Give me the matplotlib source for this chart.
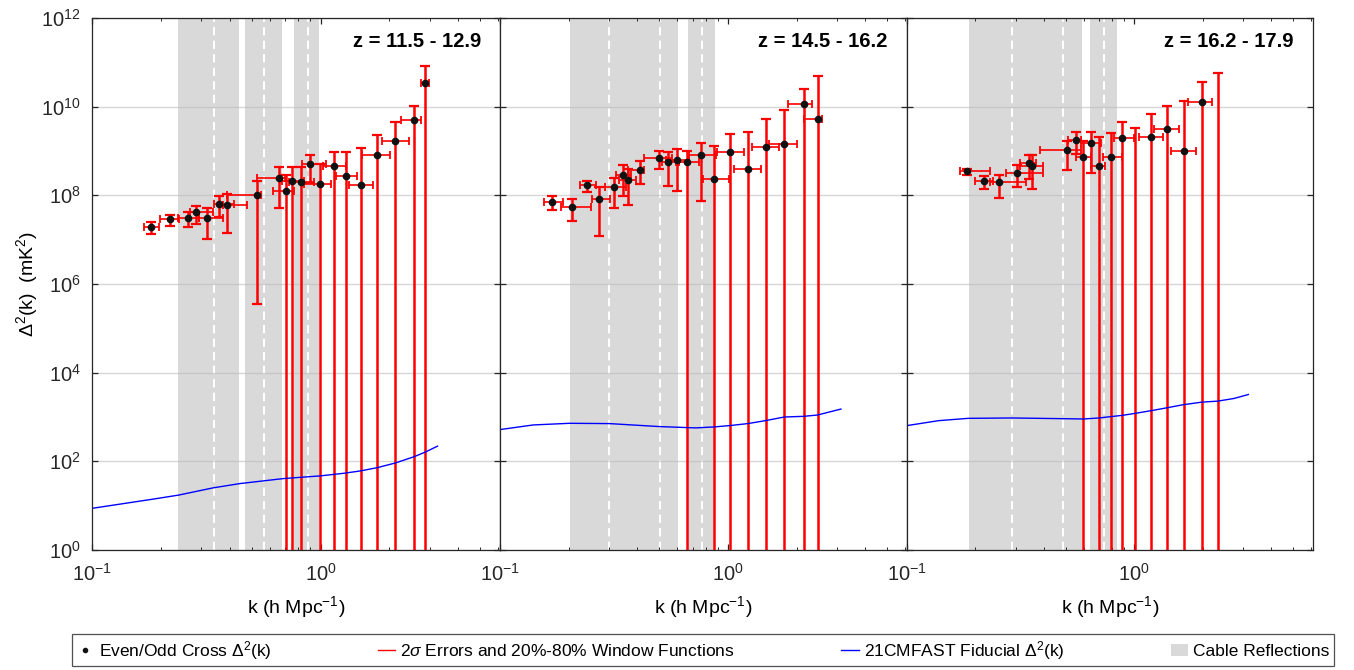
import matplotlib.pyplot as plt
import numpy as np
from matplotlib.lines import Line2D
from matplotlib.patches import Patch
from matplotlib.ticker import LogLocator, NullLocator

plt.rcParams['font.family'] = ['Liberation Sans', 'DejaVu Sans']
plt.rcParams['mathtext.fontset'] = 'custom'
plt.rcParams['mathtext.rm'] = 'Liberation Sans'
plt.rcParams['mathtext.it'] = 'Liberation Sans:italic'
plt.rcParams['mathtext.bf'] = 'Liberation Sans:bold'

LOW = 0.1  # error bar reaching zero (below the plotted range)
nan = np.nan

titles = ["z = 11.5 - 12.9", "z = 14.5 - 16.2", "z = 16.2 - 17.9"]

# ---- z = 11.5 - 12.9
k1 = [0.182, 0.220, 0.262, 0.285, 0.317, 0.361, 0.390, 0.529, 0.656, 0.705, 0.751,
      0.820, 0.897, 0.997, 1.140, 1.288, 1.508, 1.772, 2.125, 2.576, 2.877]
k1_lo = [0.169, 0.199, 0.239, 0.269, 0.293, 0.343, 0.374, 0.390, 0.528, 0.620, 0.679,
         0.726, 0.831, 0.845, 1.024, 1.164, 1.332, 1.524, 1.864, 2.244, 2.765]
k1_hi = [0.196, 0.240, 0.293, 0.340, 0.374, 0.417, 0.477, 0.549, 0.700, 0.769, 0.845,
         0.935, 1.052, 1.114, 1.288, 1.448, 1.702, 2.014, 2.440, 2.746, 2.977]
d1 = [1.91e7, 2.94e7, 3.10e7, 4.22e7, 3.10e7, 6.50e7, 6.06e7, 1.03e8, 2.49e8, 1.23e8, 2.06e8,
      1.96e8, 5.06e8, 1.77e8, 4.64e8, 2.67e8, 1.74e8, 8.20e8, 1.69e9, 4.93e9, 3.46e10]
d1_lo = [1.31e7, 2.05e7, 1.91e7, 2.27e7, 1.03e7, 3.26e7, 1.45e7, 3.49e5, 5.19e7, LOW, LOW,
         LOW, 1.86e8, LOW, LOW, LOW, LOW, LOW, LOW, LOW, LOW]
d1_hi = [2.52e7, 3.68e7, 4.22e7, 5.66e7, 5.19e7, 9.50e7, 1.07e8, 2.06e8, 4.33e8, 2.91e8, 4.33e8,
         4.33e8, 7.92e8, 5.15e8, 9.57e8, 9.42e8, 1.16e9, 2.31e9, 4.45e9, 1.04e10, 8.06e10]

# ---- z = 14.5 - 16.2
k2 = [0.169, 0.206, 0.242, 0.272, 0.316, 0.347, 0.365, 0.410, 0.496, 0.545,
      0.597, 0.662, 0.760, 0.869, 1.017, 1.222, 1.461, 1.767, 2.147, 2.472]
k2_lo = [0.156, 0.186, 0.224, 0.254, 0.290, 0.323, 0.334, 0.363, 0.427, 0.516,
         0.534, 0.590, 0.676, 0.778, 0.898, 1.062, 1.277, 1.510, 1.834, 2.163]
k2_hi = [0.189, 0.251, 0.264, 0.305, 0.357, 0.376, 0.395, 0.430, 0.571, 0.611,
         0.676, 0.747, 0.884, 1.010, 1.174, 1.402, 1.670, 2.008, 2.336, 2.582]
d2 = [7.21e7, 5.56e7, 1.68e8, 8.41e7, 1.51e8, 2.81e8, 2.17e8, 3.71e8, 6.90e8, 5.71e8,
      6.22e8, 5.61e8, 8.06e8, 2.29e8, 9.57e8, 3.84e8, 1.24e9, 1.45e9, 1.15e10, 5.19e9]
d2_lo = [4.68e7, 2.61e7, 1.17e8, 1.24e7, 5.28e7, 9.50e7, 6.17e7, 1.83e8, 3.84e8, 1.59e8,
         1.23e8, LOW, 7.59e7, LOW, LOW, LOW, LOW, LOW, LOW, LOW]
d2_hi = [9.50e7, 8.28e7, 2.10e8, 1.51e8, 2.45e8, 4.80e8, 3.97e8, 5.81e8, 9.91e8, 9.57e8,
         1.12e9, 1.00e9, 1.55e9, 1.31e9, 2.47e9, 2.70e9, 5.19e9, 8.57e9, 2.54e10, 4.97e10]

# ---- z = 16.2 - 17.9  (nan = negative value, only the error bar shows)
k3 = [0.184, 0.219, 0.253, 0.305, 0.344, 0.355, 0.504, 0.551, 0.594, 0.646,
      0.700, 0.785, 0.886, 1.007, 1.187, 1.385, 1.644, 1.991, 2.325]
k3_lo = [0.171, 0.199, 0.232, 0.272, 0.314, 0.314, 0.386, 0.511, 0.555, 0.584,
         0.646, 0.727, 0.812, 1.007, 1.052, 1.223, 1.448, 1.724, 2.325]
k3_hi = [0.232, 0.240, 0.335, 0.397, 0.371, 0.397, 0.584, 0.584, 0.646, 0.714,
         0.739, 0.880, 1.000, 1.007, 1.331, 1.563, 1.875, 2.203, 2.325]
d3 = [3.52e8, 2.10e8, 1.96e8, 3.18e8, 5.42e8, 4.56e8, 1.03e9, 1.78e9, 7.39e8, 1.53e9,
      4.56e8, 7.27e8, 1.98e9, nan, 2.08e9, 3.21e9, 1.01e9, 1.27e10, nan]
d3_lo = [2.81e8, 1.36e8, 8.71e7, 1.51e8, 2.37e8, 1.36e8, 3.65e8, 8.63e8, LOW, 3.18e8,
         LOW, LOW, LOW, LOW, LOW, LOW, LOW, LOW, LOW]
d3_hi = [3.97e8, 2.67e8, 2.91e8, 4.72e8, 7.92e8, 7.92e8, 1.66e9, 2.70e9, 1.72e9, 2.70e9,
         2.08e9, 2.52e9, 4.52e9, 3.26e9, 6.84e9, 1.05e10, 1.34e10, 3.52e10, 5.81e10]

# ---- 21CMFAST fiducial
kf1 = [0.1, 0.186, 0.239, 0.340, 0.446, 0.690, 1.0, 1.265, 1.496, 1.774, 2.125, 2.566, 2.876, 3.25]
f1 = [8.7, 14.1, 17.3, 25.3, 31.6, 40.9, 47.0, 53.8, 60.8, 72.1, 91.8, 127, 162, 220]
kf2 = [0.1, 0.140, 0.202, 0.302, 0.500, 0.722, 0.869, 1.017, 1.222, 1.461, 1.767, 2.147, 2.472, 2.855, 3.13]
f2 = [520, 662, 721, 710, 608, 568, 597, 640, 710, 828, 1000, 1035, 1109, 1340, 1510]
kf3 = [0.1, 0.138, 0.186, 0.288, 0.478, 0.596, 0.700, 0.782, 0.885, 1.007, 1.183, 1.395,
       1.633, 1.985, 2.325, 2.741, 3.17]
f3 = [640, 828, 933, 951, 918, 902, 951, 1016, 1089, 1208, 1387, 1618, 1888, 2168, 2280, 2618, 3214]

# ---- cable reflection bands and window centres (white dashed)
bands1 = [(0.238, 0.442), (0.469, 0.675), (0.769, 0.980)]
dash1 = [0.343, 0.568, 0.877]
bands2 = [(0.202, 0.605), (0.669, 0.877)]
dash2 = [0.302, 0.504, 0.770]
bands3 = [(0.187, 0.586), (0.635, 0.842)]
dash3 = [0.289, 0.483, 0.738]

panels = [
    (k1, k1_lo, k1_hi, d1, d1_lo, d1_hi, kf1, f1, bands1, dash1),
    (k2, k2_lo, k2_hi, d2, d2_lo, d2_hi, kf2, f2, bands2, dash2),
    (k3, k3_lo, k3_hi, d3, d3_lo, d3_hi, kf3, f3, bands3, dash3),
]

W, H = 1354, 670
fig = plt.figure(figsize=(W / 100, H / 100), dpi=100)
lefts = [92, 500, 907]
widths = [408, 407, 406]
edge = '#262626'

for i, (k, klo, khi, d, dlo, dhi, kf, f, bands, dashes) in enumerate(panels):
    ax = fig.add_axes([lefts[i] / W, 1 - 550 / H, widths[i] / W, 532 / H])
    k = np.array(k); klo = np.array(klo); khi = np.array(khi)
    d = np.array(d); dlo = np.array(dlo); dhi = np.array(dhi)

    for a, b in bands:
        ax.axvspan(a, b, color='#d9d9d9', lw=0, zorder=0.5)
    for x in dashes:
        ax.axvline(x, color='white', lw=1.5, dashes=(4, 2.5), zorder=0.6)

    yc = np.where(np.isnan(d), dlo, d)
    ax.errorbar(k, yc, yerr=[yc - dlo, dhi - yc], fmt='none', ecolor='red',
                elinewidth=1.8, capsize=3.5, capthick=1.6, zorder=2)
    ax.errorbar(k, yc, xerr=[k - klo, khi - k], fmt='none', ecolor='red',
                elinewidth=1.2, capsize=3, capthick=1.3, zorder=2)
    ax.plot(k, d, 'o', color='#111111', ms=4.5, zorder=3)
    ax.plot(kf, f, color='blue', lw=1, zorder=2.5)

    ax.set_xscale('log')
    ax.set_yscale('log')
    ax.set_xlim(0.1, 6.1)
    ax.set_ylim(1, 1e12)
    ax.set_yticks([10.0 ** p for p in range(0, 13, 2)])
    ax.yaxis.set_minor_locator(NullLocator())
    ax.xaxis.set_major_locator(LogLocator(base=10))
    ax.xaxis.set_minor_locator(LogLocator(base=10, subs=np.arange(2, 10)))
    ax.grid(axis='y', which='major', color='#bbbbbb', lw=1, alpha=0.6)
    ax.tick_params(which='both', direction='in', top=True, right=True,
                   colors=edge, labelcolor='#262626', labelsize=14.5)
    ax.tick_params(which='major', length=4.5, width=0.9)
    ax.tick_params(which='minor', length=2.5, width=0.7)
    ax.tick_params(axis='x', which='both', pad=9)
    ax.tick_params(axis='y', which='both', pad=8)
    for s in ax.spines.values():
        s.set_color(edge)
        s.set_linewidth(0.9)
    if i > 0:
        ax.set_yticklabels([])
    else:
        ax.set_ylabel('Δ$^2$(k)  (mK$^2$)', fontsize=14, labelpad=1)
    ax.set_xlabel('k (h Mpc$^{-1}$)', fontsize=14, labelpad=7)
    ax.text(0.953, 0.955, titles[i], transform=ax.transAxes, ha='right', va='center',
            fontsize=14.5, fontweight='bold')

handles = [
    Line2D([], [], marker='o', color='#111111', ls='none', ms=3),
    Line2D([], [], color='red', lw=1),
    Line2D([], [], color='blue', lw=1),
    Patch(facecolor='#d9d9d9', edgecolor='none'),
]
labels = ['Even/Odd Cross Δ$^2$(k)', '2$\\sigma$ Errors and 20%-80% Window Functions',
          '21CMFAST Fiducial Δ$^2$(k)', 'Cable Reflections']
leg = fig.legend(handles, labels, loc='lower left',
                 bbox_to_anchor=(72 / W, 4 / H, 1262 / W, 26 / H), ncol=4, mode='expand',
                 frameon=True, fancybox=False, edgecolor='#262626', fontsize=12.5,
                 handlelength=1.0, handletextpad=0.3, borderaxespad=0, borderpad=0.25)
leg.get_frame().set_linewidth(0.9)

fig.savefig('out.png', dpi=100)
